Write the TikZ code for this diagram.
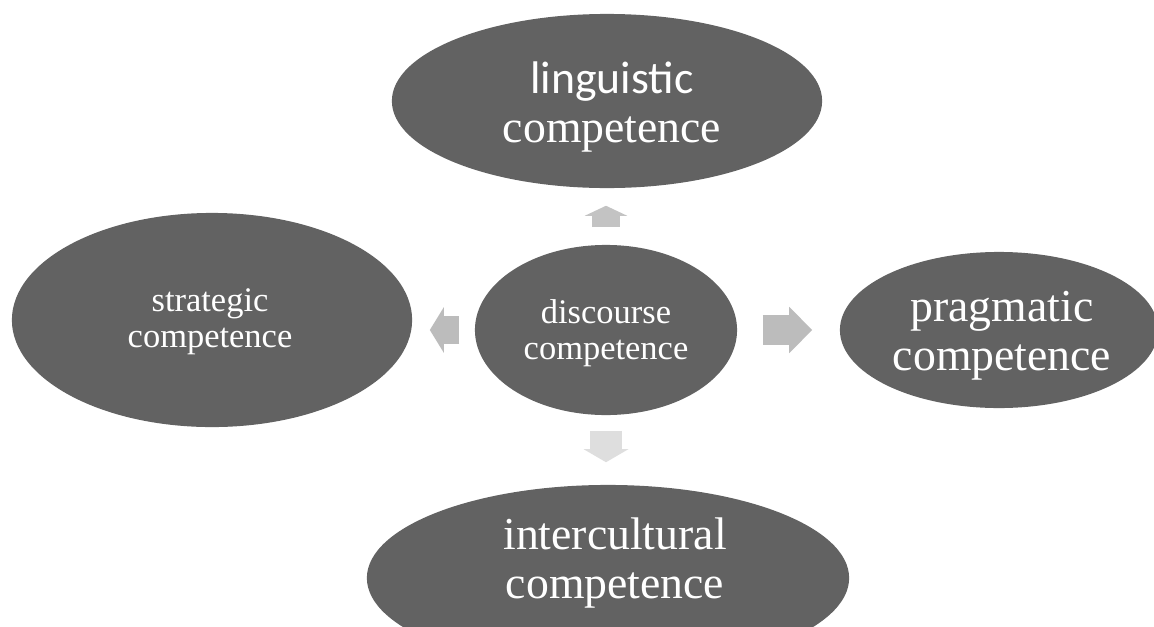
\documentclass[tikz,border=0pt]{standalone}
\usepackage{fontspec}
\setmainfont{Liberation Serif}
\newfontfamily\calfont{Carlito}
\usetikzlibrary{calc,shapes.geometric,arrows.meta}

\definecolor{ovalgray}{RGB}{98,98,98}
\definecolor{arrgray}{RGB}{188,188,188}
\definecolor{arrlight}{RGB}{222,222,222}

\begin{document}
\begin{tikzpicture}[x=0.01cm,y=-0.01cm,
  blockarr/.style n args={3}{line width=#1, -{Triangle[length=#2,width=#3]}},
  bigtxt/.style={text=white, align=center, font=\fontsize{13}{14}\selectfont},
  smalltxt/.style={text=white, align=center, font=\fontsize{9.8}{10.2}\selectfont}]
\useasboundingbox[fill=white] (0,0) rectangle (1154,627);
\begin{scope}[every node/.style={ellipse, fill=ovalgray, inner sep=0pt}]
%the five competences
\node[minimum width=4.30cm, minimum height=1.74cm] (ling) at (607,101) {};
\node[minimum width=4.00cm, minimum height=2.14cm] (strat) at (212,320) {};
\node[minimum width=2.62cm, minimum height=1.70cm] (disc) at (606,330) {};
\node[minimum width=3.18cm, minimum height=1.56cm] (prag) at (999,330) {};
\node[minimum width=4.82cm, minimum height=1.86cm] (inter) at (608,578) {};
\end{scope}

%labels
\node[bigtxt] (lingtxt) at ($(ling)+(5,6)$) {{\calfont linguistic}\\competence};
\node[smalltxt] (strattxt) at ($(strat)+(-2,2)$) {strategic\\competence};
\node[smalltxt] (disctxt) at ($(disc)+(0,3)$) {discourse\\competence};
\node[bigtxt] (pragtxt) at ($(prag)+(3,6)$) {pragmatic\\competence};
\node[bigtxt] (intertxt) at ($(inter)+(7,-15)$) {intercultural\\competence};

%arrows out of discourse
\draw[blockarr={0.28cm}{0.10cm}{0.42cm}, color=arrgray!90!white, shorten <=0.17cm, shorten >=0.17cm] (disc.north) -- (disc.north |- ling.south);
\draw[blockarr={0.28cm}{0.14cm}{0.45cm}, color=arrgray, shorten <=0.15cm, shorten >=0.17cm] (disc.west) -- (disc.west -| strat.east);
\draw[blockarr={0.29cm}{0.23cm}{0.45cm}, color=arrgray, shorten <=0.25cm, shorten >=0.27cm] (disc.east) -- (prag.west);
\draw[blockarr={0.32cm}{0.13cm}{0.44cm}, color=arrlight, shorten <=0.15cm, shorten >=0.22cm] (disc.south) -- (disc.south |- inter.north);
\end{tikzpicture}
\end{document}
